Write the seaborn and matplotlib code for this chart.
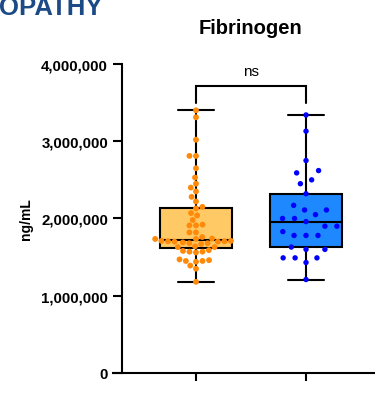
import matplotlib

matplotlib.use("Agg")
import matplotlib.pyplot as plt
import pandas as pd
import seaborn as sns

# values, in ng/mL
groups = ["Group A", "Group B"]
group_a = [
    1.18e6, 1.35e6, 1.39e6, 1.44e6, 1.45e6, 1.45e6, 1.46e6, 1.47e6, 1.56e6,
    1.57e6, 1.57e6, 1.58e6, 1.59e6,
    1.63e6, 1.63e6, 1.64e6, 1.67e6, 1.68e6, 1.68e6, 1.69e6, 1.70e6, 1.70e6,
    1.705e6, 1.705e6, 1.71e6, 1.71e6,
    1.735e6, 1.735e6, 1.74e6, 1.76e6, 1.82e6, 1.82e6, 1.91e6, 1.91e6, 1.92e6,
    1.98e6, 2.04e6, 2.07e6, 2.13e6,
    2.15e6, 2.22e6, 2.28e6, 2.35e6, 2.40e6, 2.45e6, 2.53e6, 2.65e6, 2.81e6,
    2.81e6, 3.02e6, 3.31e6, 3.40e6,
]
group_b = [
    3.34e6, 3.13e6, 2.75e6, 2.62e6, 2.59e6, 2.50e6, 2.45e6, 2.32e6, 2.17e6,
    2.11e6, 2.11e6, 2.05e6, 2.00e6, 2.00e6, 1.96e6, 1.90e6, 1.90e6, 1.83e6,
    1.78e6, 1.78e6, 1.78e6, 1.63e6, 1.60e6, 1.60e6, 1.49e6, 1.49e6, 1.49e6,
    1.43e6, 1.21e6,
]
y_ticks = [0, 1e6, 2e6, 3e6, 4e6]
y_tick_labels = ["0", "1,000,000", "2,000,000", "3,000,000", "4,000,000"]
sig_label = "ns"

box_colors = ["#FFC966", "#1E88FF"]
dot_colors = ["#FF8A0A", "#0000FF"]

df_a = pd.DataFrame({"group": groups[0], "value": group_a})
df_b = pd.DataFrame({"group": groups[1], "value": group_b})
df = pd.concat([df_a, df_b], ignore_index=True)

sns.set_style("ticks")
plt.rcParams["font.family"] = ["Liberation Sans", "DejaVu Sans"]
plt.rcParams["text.color"] = "black"
plt.rcParams["axes.labelcolor"] = "black"

fig = plt.figure(figsize=(3.75, 4.02), dpi=100)
ax = fig.add_axes([0.3013, 0.0697, 0.6987, 0.7687])

sns.boxplot(
    data=df, x="group", y="value", hue="group", order=groups, hue_order=groups,
    palette=box_colors, legend=False, saturation=1, width=0.65,
    whis=(0, 100), showfliers=False, linecolor="black", linewidth=1.5, ax=ax,
)
sns.swarmplot(
    data=df_a, x="group", y="value", order=groups, color=dot_colors[0],
    size=4.2, linewidth=0.3, edgecolor="none", ax=ax, zorder=3,
)
# wider spacing between blue dots, as in the original
sns.swarmplot(
    data=df_b, x="group", y="value", order=groups, color=dot_colors[1],
    size=3.9, linewidth=4.3, edgecolor="none", ax=ax, zorder=3,
)

ax.set_xlim(-0.7545, 1.627)
ax.set_ylim(0, 4e6)
sns.despine(ax=ax)
ax.spines["left"].set_position(("axes", 0.034))
for side in ["left", "bottom"]:
    ax.spines[side].set_linewidth(1.5)
    ax.spines[side].set_color("black")

ax.set_xticks([0, 1])
ax.set_xticklabels(["", ""])
ax.set_yticks(y_ticks)
ax.set_yticklabels(y_tick_labels)
for lbl in ax.get_yticklabels():
    lbl.set_fontweight("bold")
    lbl.set_fontsize(10.8)
ax.tick_params(axis="y", length=6.5, width=1.5, pad=3.5, colors="black")
ax.tick_params(axis="x", length=5.8, width=1.5, colors="black")
ax.set_xlabel("")
ax.set_ylabel("ng/mL", fontweight="bold", fontsize=10, color="black")
ax.yaxis.set_label_coords(-0.305, 0.5)

# significance bracket
top = max(group_a + group_b)
y_bar = top * 1.092
y_leg = top * 1.028
ax.plot([0, 0, 1, 1], [y_leg, y_bar, y_bar, y_leg], color="black", lw=1.5,
        clip_on=False, solid_joinstyle="miter")
ax.text(0.5, top * 1.135, sig_label, ha="center", va="baseline", fontsize=11)

fig.text(251 / 375, 1 - 33.5 / 402, "Fibrinogen", ha="center", va="baseline",
         fontsize=14.5, fontweight="bold")
fig.text(102 / 375, 1 - 15 / 402, "OPATHY", ha="right", va="baseline",
         fontsize=18.5, fontweight="bold", color="#1B4A85")

fig.savefig("out.png", dpi=100)
